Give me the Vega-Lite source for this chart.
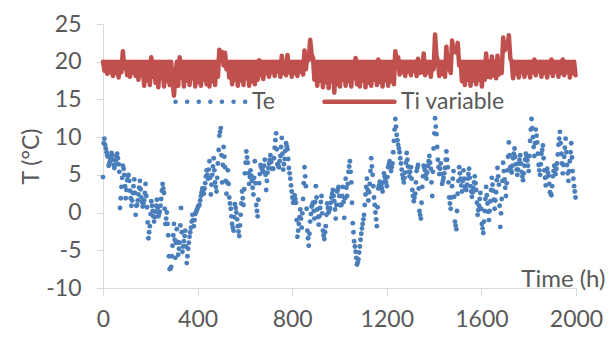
{
"$schema": "https://vega.github.io/schema/vega-lite/v6.json",
"width": 473, "height": 264,
"autosize": {"type": "none"},
"padding": {"left": 103, "top": 24, "right": 37, "bottom": 50},
"background": "white",
"config": {"view": {"stroke": null}, "font": "Lato"},
"datasets": {
"ti": [
{"t":0,"v":20},{"t":6,"v":18.8},{"t":12,"v":20},{"t":18,"v":18.4},{"t":24,"v":20},{"t":30,"v":18.6},{"t":36,"v":20},{"t":42,"v":18.1},{"t":48,"v":20},{"t":54,"v":18.5},{"t":60,"v":20},{"t":66,"v":17.9},{"t":72,"v":20},{"t":78,"v":18.6},{"t":84,"v":21.4},{"t":90,"v":19.2},{"t":96,"v":20},{"t":102,"v":18.2},{"t":108,"v":20},{"t":114,"v":18.0},{"t":120,"v":20},{"t":126,"v":18.5},{"t":132,"v":20},{"t":138,"v":18.1},{"t":144,"v":20},{"t":150,"v":17.6},{"t":156,"v":20},{"t":162,"v":18.2},{"t":168,"v":20},{"t":174,"v":16.8},{"t":180,"v":20},{"t":186,"v":17.5},{"t":192,"v":20},{"t":198,"v":16.9},{"t":204,"v":20.6},{"t":210,"v":18.0},{"t":216,"v":20},{"t":222,"v":17.2},{"t":228,"v":20},{"t":234,"v":16.6},{"t":240,"v":20},{"t":246,"v":17.8},{"t":252,"v":20},{"t":258,"v":16.7},{"t":264,"v":20},{"t":270,"v":17.4},{"t":276,"v":20},{"t":282,"v":16.9},{"t":288,"v":20},{"t":294,"v":17.6},{"t":300,"v":15.5},{"t":306,"v":18.0},{"t":312,"v":20},{"t":318,"v":16.8},{"t":324,"v":20.6},{"t":330,"v":17.9},{"t":336,"v":20},{"t":342,"v":16.7},{"t":348,"v":20},{"t":354,"v":17.5},{"t":360,"v":20},{"t":366,"v":16.9},{"t":372,"v":20},{"t":378,"v":17.8},{"t":384,"v":20},{"t":390,"v":16.7},{"t":396,"v":20},{"t":402,"v":17.3},{"t":408,"v":20},{"t":414,"v":16.8},{"t":420,"v":20},{"t":426,"v":17.6},{"t":432,"v":20},{"t":438,"v":17.0},{"t":444,"v":20},{"t":450,"v":16.7},{"t":456,"v":20},{"t":462,"v":17.4},{"t":468,"v":20},{"t":474,"v":16.9},{"t":480,"v":20},{"t":486,"v":18.0},{"t":492,"v":21.6},{"t":498,"v":20.4},{"t":504,"v":21.3},{"t":510,"v":19.5},{"t":516,"v":21.2},{"t":522,"v":19.0},{"t":528,"v":20},{"t":534,"v":17.9},{"t":540,"v":20},{"t":546,"v":17.0},{"t":552,"v":20},{"t":558,"v":17.6},{"t":564,"v":20},{"t":570,"v":16.8},{"t":576,"v":20},{"t":582,"v":17.5},{"t":588,"v":20},{"t":594,"v":16.9},{"t":600,"v":20},{"t":606,"v":17.8},{"t":612,"v":20},{"t":618,"v":16.8},{"t":624,"v":20},{"t":630,"v":17.4},{"t":636,"v":20},{"t":642,"v":17.0},{"t":648,"v":20},{"t":654,"v":17.6},{"t":660,"v":20.2},{"t":666,"v":18.2},{"t":672,"v":20},{"t":678,"v":17.7},{"t":684,"v":20},{"t":690,"v":18.5},{"t":696,"v":20},{"t":702,"v":18.0},{"t":708,"v":20},{"t":714,"v":18.6},{"t":720,"v":20},{"t":726,"v":18.1},{"t":732,"v":20},{"t":738,"v":18.7},{"t":744,"v":20},{"t":750,"v":18.0},{"t":756,"v":20.8},{"t":762,"v":18.5},{"t":768,"v":20},{"t":774,"v":18.2},{"t":780,"v":20.9},{"t":786,"v":18.6},{"t":792,"v":20},{"t":798,"v":18.0},{"t":804,"v":20},{"t":810,"v":18.5},{"t":816,"v":20},{"t":822,"v":18.1},{"t":828,"v":20},{"t":834,"v":18.7},{"t":840,"v":20},{"t":846,"v":18.3},{"t":852,"v":21.5},{"t":858,"v":19.0},{"t":864,"v":21.0},{"t":870,"v":20.2},{"t":876,"v":22.9},{"t":882,"v":21.0},{"t":888,"v":20.5},{"t":894,"v":17.6},{"t":900,"v":20},{"t":906,"v":16.8},{"t":912,"v":20},{"t":918,"v":17.5},{"t":924,"v":20},{"t":930,"v":16.6},{"t":936,"v":20},{"t":942,"v":17.3},{"t":948,"v":20},{"t":954,"v":16.5},{"t":960,"v":20},{"t":966,"v":17.4},{"t":972,"v":20},{"t":978,"v":15.9},{"t":984,"v":20},{"t":990,"v":17.0},{"t":996,"v":20},{"t":1002,"v":16.7},{"t":1008,"v":20},{"t":1014,"v":17.6},{"t":1020,"v":20},{"t":1026,"v":16.8},{"t":1032,"v":20},{"t":1038,"v":17.4},{"t":1044,"v":20},{"t":1050,"v":16.7},{"t":1056,"v":20},{"t":1062,"v":17.8},{"t":1068,"v":20.5},{"t":1074,"v":17.0},{"t":1080,"v":20},{"t":1086,"v":16.7},{"t":1092,"v":20},{"t":1098,"v":17.5},{"t":1104,"v":20},{"t":1110,"v":16.6},{"t":1116,"v":20},{"t":1122,"v":17.2},{"t":1128,"v":20},{"t":1134,"v":16.8},{"t":1140,"v":20},{"t":1146,"v":17.6},{"t":1152,"v":20},{"t":1158,"v":16.9},{"t":1164,"v":20.3},{"t":1170,"v":17.3},{"t":1176,"v":20},{"t":1182,"v":16.7},{"t":1188,"v":20},{"t":1194,"v":17.5},{"t":1200,"v":20},{"t":1206,"v":16.8},{"t":1212,"v":20},{"t":1218,"v":17.4},{"t":1224,"v":20},{"t":1230,"v":17.0},{"t":1236,"v":21.4},{"t":1242,"v":20.2},{"t":1248,"v":20.6},{"t":1254,"v":18.3},{"t":1260,"v":20},{"t":1266,"v":18.6},{"t":1272,"v":20},{"t":1278,"v":18.1},{"t":1284,"v":20},{"t":1290,"v":18.7},{"t":1296,"v":20},{"t":1302,"v":18.2},{"t":1308,"v":20},{"t":1314,"v":18.8},{"t":1320,"v":20},{"t":1326,"v":18.1},{"t":1332,"v":20.4},{"t":1338,"v":18.5},{"t":1344,"v":20},{"t":1350,"v":18.6},{"t":1356,"v":21.1},{"t":1362,"v":18.2},{"t":1368,"v":20},{"t":1374,"v":18.6},{"t":1380,"v":20},{"t":1386,"v":18.0},{"t":1392,"v":20},{"t":1398,"v":19.0},{"t":1404,"v":23.6},{"t":1410,"v":20.8},{"t":1416,"v":20},{"t":1422,"v":18.1},{"t":1428,"v":20},{"t":1434,"v":18.4},{"t":1440,"v":20},{"t":1446,"v":18.0},{"t":1452,"v":22.0},{"t":1458,"v":19.0},{"t":1464,"v":20},{"t":1470,"v":18.5},{"t":1476,"v":22.8},{"t":1482,"v":21.3},{"t":1488,"v":21.8},{"t":1494,"v":21.2},{"t":1500,"v":22.5},{"t":1506,"v":19.5},{"t":1512,"v":20},{"t":1518,"v":17.4},{"t":1524,"v":20},{"t":1530,"v":16.9},{"t":1536,"v":20},{"t":1542,"v":17.6},{"t":1548,"v":20},{"t":1554,"v":16.8},{"t":1560,"v":20},{"t":1566,"v":17.5},{"t":1572,"v":20},{"t":1578,"v":17.0},{"t":1584,"v":20},{"t":1590,"v":17.6},{"t":1596,"v":20},{"t":1602,"v":16.7},{"t":1608,"v":20},{"t":1614,"v":17.6},{"t":1620,"v":21.1},{"t":1626,"v":18.0},{"t":1632,"v":20},{"t":1638,"v":17.9},{"t":1644,"v":20.7},{"t":1650,"v":18.2},{"t":1656,"v":20},{"t":1662,"v":17.8},{"t":1668,"v":20.8},{"t":1674,"v":18.3},{"t":1680,"v":20},{"t":1686,"v":18.5},{"t":1692,"v":23.2},{"t":1698,"v":21.5},{"t":1704,"v":22.0},{"t":1710,"v":21.8},{"t":1716,"v":23.5},{"t":1722,"v":20.5},{"t":1728,"v":20},{"t":1734,"v":17.8},{"t":1740,"v":20},{"t":1746,"v":18.4},{"t":1752,"v":20},{"t":1758,"v":17.9},{"t":1764,"v":20},{"t":1770,"v":18.6},{"t":1776,"v":20},{"t":1782,"v":18.0},{"t":1788,"v":20},{"t":1794,"v":18.5},{"t":1800,"v":20},{"t":1806,"v":17.9},{"t":1812,"v":20},{"t":1818,"v":18.6},{"t":1824,"v":20.3},{"t":1830,"v":18.2},{"t":1836,"v":20},{"t":1842,"v":18.7},{"t":1848,"v":20},{"t":1854,"v":18.0},{"t":1860,"v":20},{"t":1866,"v":18.5},{"t":1872,"v":20},{"t":1878,"v":17.9},{"t":1884,"v":20},{"t":1890,"v":18.6},{"t":1896,"v":20.3},{"t":1902,"v":18.1},{"t":1908,"v":20},{"t":1914,"v":18.7},{"t":1920,"v":20},{"t":1926,"v":18.0},{"t":1932,"v":20},{"t":1938,"v":18.5},{"t":1944,"v":20.3},{"t":1950,"v":18.2},{"t":1956,"v":20},{"t":1962,"v":18.6},{"t":1968,"v":20},{"t":1974,"v":17.9},{"t":1980,"v":20},{"t":1986,"v":18.5},{"t":1992,"v":20},{"t":1998,"v":18.2}
],
"te": [
{"t":0,"v":4.7},{"t":6,"v":9.8},{"t":12,"v":8.5},{"t":18,"v":7.6},
{"t":24,"v":6.2},{"t":30,"v":6.8},{"t":36,"v":7.9},{"t":42,"v":7.0},
{"t":48,"v":5.9},{"t":54,"v":6.9},{"t":60,"v":7.8},{"t":66,"v":6.4},
{"t":72,"v":0.6},{"t":78,"v":3.4},{"t":84,"v":6.2},{"t":90,"v":5.0},
{"t":96,"v":1.9},{"t":102,"v":4.3},{"t":108,"v":5.0},{"t":114,"v":2.9},
{"t":120,"v":0.9},{"t":126,"v":2.6},{"t":132,"v":4.4},{"t":138,"v":-0.3},
{"t":144,"v":1.0},{"t":150,"v":2.4},{"t":156,"v":4.2},{"t":162,"v":2.0},
{"t":168,"v":0.8},{"t":174,"v":1.6},{"t":180,"v":3.8},{"t":186,"v":0.7},
{"t":192,"v":-3.4},{"t":198,"v":-1.8},{"t":204,"v":1.5},{"t":210,"v":0.2},
{"t":216,"v":-1.2},{"t":222,"v":0.1},{"t":228,"v":1.7},{"t":234,"v":-0.5},
{"t":240,"v":0.1},{"t":246,"v":1.8},{"t":252,"v":3.8},{"t":258,"v":2.6},
{"t":264,"v":-1.5},{"t":270,"v":0.0},{"t":276,"v":-3.0},{"t":282,"v":-7.5},
{"t":288,"v":-7.2},{"t":294,"v":-4.4},{"t":300,"v":-1.5},{"t":306,"v":-6.0},
{"t":312,"v":-2.2},{"t":318,"v":-5.6},{"t":324,"v":-4.0},{"t":330,"v":0.6},
{"t":336,"v":-5.2},{"t":342,"v":-3.8},{"t":348,"v":-2.4},{"t":354,"v":-6.7},
{"t":360,"v":-4.8},{"t":366,"v":-3.2},{"t":372,"v":-2.0},{"t":378,"v":-0.3},
{"t":384,"v":-1.8},{"t":390,"v":-0.2},{"t":396,"v":0.3},{"t":402,"v":0.8},
{"t":408,"v":1.0},{"t":414,"v":2.2},{"t":420,"v":3.2},{"t":426,"v":2.5},
{"t":432,"v":3.9},{"t":438,"v":5.6},{"t":444,"v":4.5},{"t":450,"v":6.8},
{"t":456,"v":2.4},{"t":462,"v":5.0},{"t":468,"v":7.2},{"t":474,"v":4.0},
{"t":480,"v":2.8},{"t":486,"v":6.5},{"t":492,"v":10.2},{"t":498,"v":11.2},
{"t":504,"v":4.0},{"t":510,"v":8.7},{"t":516,"v":6.0},{"t":522,"v":2.5},
{"t":528,"v":5.6},{"t":534,"v":2.0},{"t":540,"v":0.5},{"t":546,"v":-1.5},
{"t":552,"v":-2.4},{"t":558,"v":1.1},{"t":564,"v":0.0},{"t":570,"v":-1.8},
{"t":576,"v":-3.1},{"t":582,"v":-0.3},{"t":588,"v":2.8},{"t":594,"v":1.0},
{"t":600,"v":5.2},{"t":606,"v":8.1},{"t":612,"v":6.6},{"t":618,"v":3.8},
{"t":624,"v":5.6},{"t":630,"v":4.2},{"t":636,"v":2.4},{"t":642,"v":6.8},
{"t":648,"v":1.0},{"t":654,"v":-0.5},{"t":660,"v":3.9},{"t":666,"v":6.3},
{"t":672,"v":5.8},{"t":678,"v":5.4},{"t":684,"v":7.0},{"t":690,"v":3.0},
{"t":696,"v":5.3},{"t":702,"v":6.5},{"t":708,"v":7.6},{"t":714,"v":5.8},
{"t":720,"v":5.8},{"t":726,"v":8.6},{"t":732,"v":10.5},{"t":738,"v":6.4},
{"t":744,"v":6.0},{"t":750,"v":7.5},{"t":756,"v":9.9},{"t":762,"v":5.7},
{"t":768,"v":7.1},{"t":774,"v":9.2},{"t":780,"v":8.4},{"t":786,"v":5.9},
{"t":792,"v":4.5},{"t":798,"v":2.8},{"t":804,"v":1.3},{"t":810,"v":2.3},
{"t":816,"v":1.3},{"t":822,"v":-3.2},{"t":828,"v":-1.5},{"t":834,"v":0.4},
{"t":840,"v":-2.0},{"t":846,"v":1.8},{"t":852,"v":6.0},{"t":858,"v":3.5},
{"t":864,"v":-2.4},{"t":870,"v":-4.4},{"t":876,"v":-1.2},{"t":882,"v":0.8},
{"t":888,"v":1.3},{"t":894,"v":-0.8},{"t":900,"v":3.5},{"t":906,"v":0.4},
{"t":912,"v":-1.6},{"t":918,"v":0.6},{"t":924,"v":2.2},{"t":930,"v":-2.4},
{"t":936,"v":-3.5},{"t":942,"v":-1.8},{"t":948,"v":1.2},{"t":954,"v":0.0},
{"t":960,"v":0.6},{"t":966,"v":2.0},{"t":972,"v":3.0},{"t":978,"v":1.5},
{"t":984,"v":-0.8},{"t":990,"v":2.8},{"t":996,"v":3.4},{"t":1002,"v":1.0},
{"t":1008,"v":1.0},{"t":1014,"v":3.4},{"t":1020,"v":-0.7},{"t":1026,"v":4.5},
{"t":1032,"v":2.2},{"t":1038,"v":5.4},{"t":1044,"v":6.8},{"t":1050,"v":4.0},
{"t":1056,"v":-1.4},{"t":1062,"v":-3.8},{"t":1068,"v":-5.2},{"t":1074,"v":-6.9},
{"t":1080,"v":-6.2},{"t":1086,"v":-4.5},{"t":1092,"v":-2.8},{"t":1098,"v":-1.5},
{"t":1104,"v":-0.3},{"t":1110,"v":2.4},{"t":1116,"v":4.5},{"t":1122,"v":1.6},
{"t":1128,"v":3.8},{"t":1134,"v":7.2},{"t":1140,"v":5.0},{"t":1146,"v":2.0},
{"t":1152,"v":0.0},{"t":1158,"v":-1.8},{"t":1164,"v":3.2},{"t":1170,"v":4.1},
{"t":1176,"v":3.6},{"t":1182,"v":2.8},{"t":1188,"v":5.2},{"t":1194,"v":4.5},
{"t":1200,"v":3.5},{"t":1206,"v":6.0},{"t":1212,"v":6.8},{"t":1218,"v":5.5},
{"t":1224,"v":6.5},{"t":1230,"v":9.5},{"t":1236,"v":12.4},{"t":1242,"v":10.3},
{"t":1248,"v":9.0},{"t":1254,"v":8.0},{"t":1260,"v":6.5},{"t":1266,"v":5.0},
{"t":1272,"v":4.0},{"t":1278,"v":5.3},{"t":1284,"v":7.9},{"t":1290,"v":6.1},
{"t":1296,"v":4.8},{"t":1302,"v":6.0},{"t":1308,"v":3.0},{"t":1314,"v":1.5},
{"t":1320,"v":2.5},{"t":1326,"v":5.5},{"t":1332,"v":6.3},{"t":1338,"v":0.2},
{"t":1344,"v":-0.8},{"t":1350,"v":3.4},{"t":1356,"v":6.2},{"t":1362,"v":5.6},
{"t":1368,"v":4.5},{"t":1374,"v":6.2},{"t":1380,"v":7.5},{"t":1386,"v":5.8},
{"t":1392,"v":2.2},{"t":1398,"v":8.5},{"t":1404,"v":12.5},{"t":1410,"v":10.4},
{"t":1416,"v":7.0},{"t":1422,"v":5.1},{"t":1428,"v":6.5},{"t":1434,"v":3.8},
{"t":1440,"v":4.6},{"t":1446,"v":5.9},{"t":1452,"v":8.1},{"t":1458,"v":6.0},
{"t":1464,"v":2.0},{"t":1470,"v":0.5},{"t":1476,"v":3.5},{"t":1482,"v":5.5},
{"t":1488,"v":-1.2},{"t":1494,"v":-2.2},{"t":1500,"v":2.5},{"t":1506,"v":6.0},
{"t":1512,"v":4.5},{"t":1518,"v":2.8},{"t":1524,"v":5.6},{"t":1530,"v":3.4},
{"t":1536,"v":3.0},{"t":1542,"v":4.5},{"t":1548,"v":5.8},{"t":1554,"v":3.5},
{"t":1560,"v":2.1},{"t":1566,"v":3.3},{"t":1572,"v":4.8},{"t":1578,"v":3.0},
{"t":1584,"v":-0.3},{"t":1590,"v":0.9},{"t":1596,"v":2.6},{"t":1602,"v":-1.5},
{"t":1608,"v":-2.7},{"t":1614,"v":0.2},{"t":1620,"v":3.4},{"t":1626,"v":1.2},
{"t":1632,"v":-1.0},{"t":1638,"v":1.5},{"t":1644,"v":4.6},{"t":1650,"v":2.9},
{"t":1656,"v":0.5},{"t":1662,"v":2.7},{"t":1668,"v":5.9},{"t":1674,"v":3.7},
{"t":1680,"v":-1.9},{"t":1686,"v":1.8},{"t":1692,"v":6.6},{"t":1698,"v":4.4},
{"t":1704,"v":2.2},{"t":1710,"v":5.6},{"t":1716,"v":9.3},{"t":1722,"v":6.0},
{"t":1728,"v":5.3},{"t":1734,"v":7.2},{"t":1740,"v":8.5},{"t":1746,"v":6.4},
{"t":1752,"v":5.0},{"t":1758,"v":6.5},{"t":1764,"v":7.6},{"t":1770,"v":5.4},
{"t":1776,"v":4.3},{"t":1782,"v":6.2},{"t":1788,"v":7.8},{"t":1794,"v":6.9},
{"t":1800,"v":5.5},{"t":1806,"v":9.5},{"t":1812,"v":12.4},{"t":1818,"v":10.0},
{"t":1824,"v":7.5},{"t":1830,"v":11.0},{"t":1836,"v":9.3},{"t":1842,"v":6.3},
{"t":1848,"v":5.0},{"t":1854,"v":7.8},{"t":1860,"v":8.9},{"t":1866,"v":5.6},
{"t":1872,"v":3.6},{"t":1878,"v":5.8},{"t":1884,"v":4.9},{"t":1890,"v":2.7},
{"t":1896,"v":2.3},{"t":1902,"v":4.8},{"t":1908,"v":6.2},{"t":1914,"v":5.1},
{"t":1920,"v":6.5},{"t":1926,"v":9.0},{"t":1932,"v":10.7},{"t":1938,"v":7.8},
{"t":1944,"v":5.2},{"t":1950,"v":7.4},{"t":1956,"v":9.8},{"t":1962,"v":6.3},
{"t":1968,"v":4.2},{"t":1974,"v":6.8},{"t":1980,"v":9.2},{"t":1986,"v":5.5},
{"t":1992,"v":3.5},{"t":1998,"v":2.0},
{"t":3,"v":9.2},{"t":9,"v":9.0},{"t":15,"v":8.0},{"t":21,"v":7.4},{"t":27,"v":6.5},{"t":33,"v":7.3},{"t":39,"v":7.6},{"t":45,"v":6.3},{"t":51,"v":6.3},{"t":57,"v":7.5},{"t":63,"v":7.2},{"t":69,"v":5.4},{"t":75,"v":1.9},{"t":81,"v":4.6},{"t":87,"v":5.8},{"t":93,"v":3.5},{"t":99,"v":3.0},{"t":105,"v":4.8},{"t":111,"v":4.2},{"t":117,"v":1.9},{"t":123,"v":1.6},{"t":129,"v":3.5},{"t":135,"v":2.6},{"t":141,"v":0.9},{"t":147,"v":1.6},{"t":153,"v":3.3},{"t":159,"v":3.1},{"t":165,"v":1.4},{"t":171,"v":1.2},{"t":177,"v":2.6},{"t":183,"v":2.2},{"t":189,"v":-1.3},{"t":195,"v":-2.6},{"t":201,"v":-0.2},{"t":207,"v":0.9},{"t":213,"v":-0.5},{"t":219,"v":-0.6},{"t":225,"v":0.9},{"t":231,"v":0.6},{"t":237,"v":-0.2},{"t":243,"v":0.9},{"t":249,"v":2.9},{"t":255,"v":3.2},{"t":261,"v":0.5},{"t":267,"v":-0.8},{"t":273,"v":-1.5},{"t":279,"v":-5.8},{"t":285,"v":-7.4},{"t":291,"v":-5.8},{"t":297,"v":-3.0},{"t":303,"v":-3.6},{"t":309,"v":-4.0},{"t":315,"v":-3.9},{"t":321,"v":-4.8},{"t":327,"v":-1.7},{"t":333,"v":-2.6},{"t":339,"v":-4.5},{"t":345,"v":-3.1},{"t":351,"v":-4.5},{"t":357,"v":-5.8},{"t":363,"v":-4.0},{"t":369,"v":-2.6},{"t":375,"v":-1.2},{"t":381,"v":-1.0},{"t":387,"v":-1.0},{"t":393,"v":0.0},{"t":399,"v":0.5},{"t":405,"v":0.9},{"t":411,"v":1.6},{"t":417,"v":2.7},{"t":423,"v":2.9},{"t":429,"v":3.2},{"t":435,"v":4.8},{"t":441,"v":5.0},{"t":447,"v":5.7},{"t":453,"v":4.6},{"t":459,"v":3.7},{"t":465,"v":6.1},{"t":471,"v":5.6},{"t":477,"v":3.4},{"t":483,"v":4.6},{"t":489,"v":8.3},{"t":495,"v":10.7},{"t":501,"v":7.6},{"t":507,"v":6.3},{"t":513,"v":7.4},{"t":519,"v":4.2},{"t":525,"v":4.0},{"t":531,"v":3.8},{"t":537,"v":1.2},{"t":543,"v":-0.5},{"t":549,"v":-2.0},{"t":555,"v":-0.6},{"t":561,"v":0.6},{"t":567,"v":-0.9},{"t":573,"v":-2.5},{"t":579,"v":-1.7},{"t":585,"v":1.2},{"t":591,"v":1.9},{"t":597,"v":3.1},{"t":603,"v":6.6},{"t":609,"v":7.3},{"t":615,"v":5.2},{"t":621,"v":4.7},{"t":627,"v":4.9},{"t":633,"v":3.3},{"t":639,"v":4.6},{"t":645,"v":3.9},{"t":651,"v":0.2},{"t":657,"v":1.7},{"t":663,"v":5.1},{"t":669,"v":6.0},{"t":675,"v":5.6},{"t":681,"v":6.2},{"t":687,"v":5.0},{"t":693,"v":4.2},{"t":699,"v":5.9},{"t":705,"v":7.0},{"t":711,"v":6.7},{"t":717,"v":5.8},{"t":723,"v":7.2},{"t":729,"v":9.6},{"t":735,"v":8.4},{"t":741,"v":6.2},{"t":747,"v":6.8},{"t":753,"v":8.7},{"t":759,"v":7.8},{"t":765,"v":6.4},{"t":771,"v":8.2},{"t":777,"v":8.8},{"t":783,"v":7.1},{"t":789,"v":5.2},{"t":795,"v":3.6},{"t":801,"v":2.0},{"t":807,"v":1.8},{"t":813,"v":1.8},{"t":819,"v":-1.0},{"t":825,"v":-2.4},{"t":831,"v":-0.6},{"t":837,"v":-0.8},{"t":843,"v":-0.1},{"t":849,"v":3.9},{"t":855,"v":4.8},{"t":861,"v":0.5},{"t":867,"v":-3.4},{"t":873,"v":-2.8},{"t":879,"v":-0.2},{"t":885,"v":1.0},{"t":891,"v":0.2},{"t":897,"v":1.4},{"t":903,"v":2.0},{"t":909,"v":-0.6},{"t":915,"v":-0.5},{"t":921,"v":1.4},{"t":927,"v":-0.1},{"t":933,"v":-3.0},{"t":939,"v":-2.6},{"t":945,"v":-0.3},{"t":951,"v":0.6},{"t":957,"v":0.3},{"t":963,"v":1.3},{"t":969,"v":2.5},{"t":975,"v":2.2},{"t":981,"v":0.4},{"t":987,"v":1.0},{"t":993,"v":3.1},{"t":999,"v":2.2},{"t":1005,"v":1.0},{"t":1011,"v":2.2},{"t":1017,"v":1.4},{"t":1023,"v":1.9},{"t":1029,"v":3.3},{"t":1035,"v":3.8},{"t":1041,"v":6.1},{"t":1047,"v":5.4},{"t":1053,"v":1.3},{"t":1059,"v":-2.6},{"t":1065,"v":-4.5},{"t":1071,"v":-6.0},{"t":1077,"v":-6.6},{"t":1083,"v":-5.3},{"t":1089,"v":-3.6},{"t":1095,"v":-2.1},{"t":1101,"v":-0.9},{"t":1107,"v":1.0},{"t":1113,"v":3.4},{"t":1119,"v":3.0},{"t":1125,"v":2.7},{"t":1131,"v":5.5},{"t":1137,"v":6.1},{"t":1143,"v":3.5},{"t":1149,"v":1.0},{"t":1155,"v":-0.9},{"t":1161,"v":0.7},{"t":1167,"v":3.6},{"t":1173,"v":3.8},{"t":1179,"v":3.2},{"t":1185,"v":4.0},{"t":1191,"v":4.8},{"t":1197,"v":4.0},{"t":1203,"v":4.7},{"t":1209,"v":6.4},{"t":1215,"v":6.1},{"t":1221,"v":6.0},{"t":1227,"v":8.0},{"t":1233,"v":11.0},{"t":1239,"v":11.4},{"t":1245,"v":9.6},{"t":1251,"v":8.5},{"t":1257,"v":7.2},{"t":1263,"v":5.7},{"t":1269,"v":4.5},{"t":1275,"v":4.6},{"t":1281,"v":6.6},{"t":1287,"v":7.0},{"t":1293,"v":5.4},{"t":1299,"v":5.4},{"t":1305,"v":4.5},{"t":1311,"v":2.2},{"t":1317,"v":2.0},{"t":1323,"v":4.0},{"t":1329,"v":5.9},{"t":1335,"v":3.2},{"t":1341,"v":-0.3},{"t":1347,"v":1.3},{"t":1353,"v":4.8},{"t":1359,"v":5.9},{"t":1365,"v":5.0},{"t":1371,"v":5.3},{"t":1377,"v":6.8},{"t":1383,"v":6.6},{"t":1389,"v":4.0},{"t":1395,"v":5.4},{"t":1401,"v":10.5},{"t":1407,"v":11.4},{"t":1413,"v":8.7},{"t":1419,"v":6.0},{"t":1425,"v":5.8},{"t":1431,"v":5.1},{"t":1437,"v":4.2},{"t":1443,"v":5.2},{"t":1449,"v":7.0},{"t":1455,"v":7.0},{"t":1461,"v":4.0},{"t":1467,"v":1.2},{"t":1473,"v":2.0},{"t":1479,"v":4.5},{"t":1485,"v":2.1},{"t":1491,"v":-1.7},{"t":1497,"v":0.2},{"t":1503,"v":4.2},{"t":1509,"v":5.2},{"t":1515,"v":3.6},{"t":1521,"v":4.2},{"t":1527,"v":4.5},{"t":1533,"v":3.2},{"t":1539,"v":3.7},{"t":1545,"v":5.1},{"t":1551,"v":4.6},{"t":1557,"v":2.8},{"t":1563,"v":2.7},{"t":1569,"v":4.0},{"t":1575,"v":3.9},{"t":1581,"v":1.3},{"t":1587,"v":0.3},{"t":1593,"v":1.8},{"t":1599,"v":0.5},{"t":1605,"v":-2.1},{"t":1611,"v":-1.2},{"t":1617,"v":1.8},{"t":1623,"v":2.3},{"t":1629,"v":0.1},{"t":1635,"v":0.2},{"t":1641,"v":3.0},{"t":1647,"v":3.7},{"t":1653,"v":1.7},{"t":1659,"v":1.6},{"t":1665,"v":4.3},{"t":1671,"v":4.8},{"t":1677,"v":0.9},{"t":1683,"v":-0.1},{"t":1689,"v":4.2},{"t":1695,"v":5.5},{"t":1701,"v":3.3},{"t":1707,"v":3.9},{"t":1713,"v":7.4},{"t":1719,"v":7.6},{"t":1725,"v":5.6},{"t":1731,"v":6.2},{"t":1737,"v":7.8},{"t":1743,"v":7.4},{"t":1749,"v":5.7},{"t":1755,"v":5.7},{"t":1761,"v":7.0},{"t":1767,"v":6.5},{"t":1773,"v":4.8},{"t":1779,"v":5.2},{"t":1785,"v":7.0},{"t":1791,"v":7.3},{"t":1797,"v":6.2},{"t":1803,"v":7.5},{"t":1809,"v":11.0},{"t":1815,"v":11.2},{"t":1821,"v":8.7},{"t":1827,"v":9.2},{"t":1833,"v":10.2},{"t":1839,"v":7.8},{"t":1845,"v":5.6},{"t":1851,"v":6.4},{"t":1857,"v":8.3},{"t":1863,"v":7.2},{"t":1869,"v":4.6},{"t":1875,"v":4.7},{"t":1881,"v":5.3},{"t":1887,"v":3.8},{"t":1893,"v":2.5},{"t":1899,"v":3.5},{"t":1905,"v":5.5},{"t":1911,"v":5.6},{"t":1917,"v":5.8},{"t":1923,"v":7.7},{"t":1929,"v":9.8},{"t":1935,"v":9.2},{"t":1941,"v":6.5},{"t":1947,"v":6.3},{"t":1953,"v":8.6},{"t":1959,"v":8.0},{"t":1965,"v":5.2},{"t":1971,"v":5.5},{"t":1977,"v":8.0},{"t":1983,"v":7.3},{"t":1989,"v":4.5},{"t":1995,"v":2.8}
]
},
"encoding": {
  "x": {"field": "t", "type": "quantitative", "scale": {"domain": [0, 2000], "nice": false},
    "axis": {"title": "Time (h)", "values": [0, 400, 800, 1200, 1600, 2000], "grid": false,
      "labelExpr": "'' + datum.value",
      "domainColor": "#d9d9d9", "tickColor": "#d9d9d9", "tickSize": 8, "labelFlush": false,
      "labelFontSize": 23, "labelColor": "#595959", "labelPadding": 12,
      "titleFontSize": 24, "titleColor": "#595959", "titleFontWeight": "normal",
      "titleAnchor": "end", "titleAlign": "right", "titleBaseline": "alphabetic",
      "titleX": 502, "titleY": -2}},
  "y": {"field": "v", "type": "quantitative", "scale": {"domain": [-10, 25], "nice": false},
    "axis": {"title": "T (°C)", "values": [-10, -5, 0, 5, 10, 15, 20, 25], "grid": false,
      "labelExpr": "'' + datum.value",
      "domainColor": "#d9d9d9", "tickColor": "#d9d9d9", "tickSize": 7,
      "labelFontSize": 23, "labelColor": "#595959", "labelPadding": 15,
      "titleFontSize": 23, "titleColor": "#595959", "titleFontWeight": "normal", "titlePadding": 2}}
},
"layer": [
  {"data": {"name": "te"},
   "mark": {"type": "point", "filled": true, "size": 24, "opacity": 1},
   "encoding": {"color": {"datum": "Te", "type": "nominal",
      "scale": {"domain": ["Te", "Ti variable"], "range": ["#4a7ebb", "#c0504d"]},
      "legend": {"title": null, "orient": "none", "legendX": 70, "legendY": 40,
        "direction": "horizontal", "columns": 2, "symbolType": "stroke", "symbolSize": 4900,
        "symbolStrokeWidth": 4.5, "labelFontSize": 23, "labelColor": "#595959",
        "labelOffset": 4, "columnPadding": 40, "padding": 0,
        "encode": {"symbols": {"update": {
          "stroke": {"signal": "datum.value === 'Te' ? '#4a7ebb' : '#c0504d'"},
          "fill": {"value": "transparent"},
          "opacity": {"value": 1},
          "strokeDash": {"signal": "datum.value === 'Te' ? [0.1, 11.5] : [1, 0]"},
          "strokeCap": {"value": "round"},
          "strokeWidth": {"value": 4.5},
          "shape": {"value": "stroke"}}}}}}}},
  {"data": {"name": "ti"},
   "mark": {"type": "line", "strokeWidth": 4.5, "strokeJoin": "round", "strokeCap": "round"},
   "encoding": {"color": {"datum": "Ti variable", "type": "nominal",
      "scale": {"domain": ["Te", "Ti variable"], "range": ["#4a7ebb", "#c0504d"]},
      "legend": {"title": null, "orient": "none", "legendX": 70, "legendY": 40,
        "direction": "horizontal", "columns": 2, "symbolType": "stroke", "symbolSize": 4900,
        "symbolStrokeWidth": 4.5, "labelFontSize": 23, "labelColor": "#595959",
        "labelOffset": 4, "columnPadding": 40, "padding": 0,
        "encode": {"symbols": {"update": {
          "stroke": {"signal": "datum.value === 'Te' ? '#4a7ebb' : '#c0504d'"},
          "fill": {"value": "transparent"},
          "opacity": {"value": 1},
          "strokeDash": {"signal": "datum.value === 'Te' ? [0.1, 11.5] : [1, 0]"},
          "strokeCap": {"value": "round"},
          "strokeWidth": {"value": 4.5},
          "shape": {"value": "stroke"}}}}}}}}
]
}
